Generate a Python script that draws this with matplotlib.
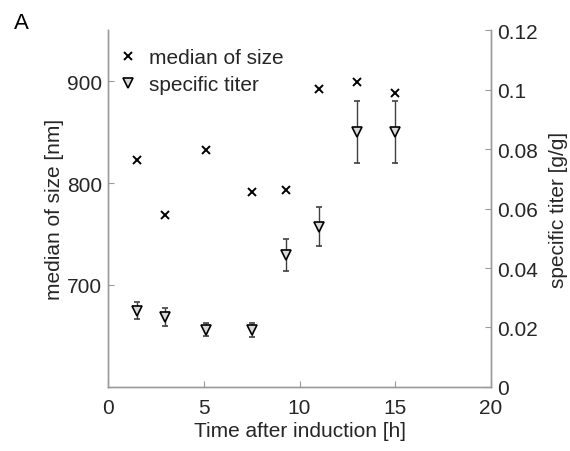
import numpy as np
import matplotlib.pyplot as plt

plt.rcParams['font.family'] = ['Liberation Sans', 'DejaVu Sans']

# time after induction [h]
time_h = [1.5, 3.0, 5.1, 7.5, 9.3, 11.0, 13.0, 15.0]
# median of size [nm]
median_size = [823, 769, 832, 791, 793, 892, 899, 888]
# specific titer [g/g] and its error
titer = [0.0257, 0.0235, 0.0193, 0.0192, 0.0443, 0.0539, 0.0857, 0.0857]
titer_err = [0.0030, 0.0029, 0.0023, 0.0023, 0.0053, 0.0065, 0.0103, 0.0103]

spine_col = "#9a9a9a"
text_col = "#262626"
fs = 15

fig = plt.figure(figsize=(5.7, 4.52), dpi=100)
ax = fig.add_axes([0.1895, 0.1416, 0.6719, 0.7898])
ax2 = ax.twinx()

h1, = ax.plot(time_h, median_size, "x", color="black", markersize=5.5,
              markeredgewidth=1.4, linestyle="none", label="median of size")
h2 = ax2.errorbar(time_h, titer, yerr=titer_err, fmt="v", color="#3a3a3a",
                  markersize=7, markerfacecolor="#d9d9d9", markeredgecolor="black",
                  markeredgewidth=1.2, ecolor="#404040", elinewidth=1.0,
                  capsize=2.5, capthick=1.0, label="specific titer")

ax.set_xlim(0, 20)
ax.set_ylim(600, 950)
ax2.set_ylim(0, 0.12)
ax.set_xticks([0, 5, 10, 15, 20])
ax.set_yticks([700, 800, 900])
ax2.set_yticks([0, 0.02, 0.04, 0.06, 0.08, 0.1, 0.12])
ax2.set_yticklabels(["0", "0.02", "0.04", "0.06", "0.08", "0.1", "0.12"])

for a in (ax, ax2):
    a.spines["top"].set_visible(False)
    for s in ("left", "right", "bottom"):
        a.spines[s].set_color(spine_col)
        a.spines[s].set_linewidth(1.0)
    a.tick_params(direction="in", length=4, color=spine_col,
                  labelsize=fs, labelcolor=text_col, pad=4.5)
ax.tick_params(axis="x", pad=8)

ax.set_xlabel("Time after induction [h]", fontsize=fs, color=text_col, labelpad=3)
ax.set_ylabel("median of size [nm]", fontsize=fs, color=text_col, labelpad=2)
ax2.set_ylabel("specific titer [g/g]", fontsize=fs, color=text_col, labelpad=8)

leg = ax.legend([h1, h2[0]], ["median of size", "specific titer"], loc="upper left",
                frameon=False, fontsize=fs, handlelength=0.8, handletextpad=0.6,
                borderaxespad=0.3, labelspacing=0.4, bbox_to_anchor=(-0.008, 0.99))
for t in leg.get_texts():
    t.set_color(text_col)

fig.text(0.024, 0.935, "A", fontsize=16, color="black")

fig.savefig("out.png", dpi=100, facecolor="white")
